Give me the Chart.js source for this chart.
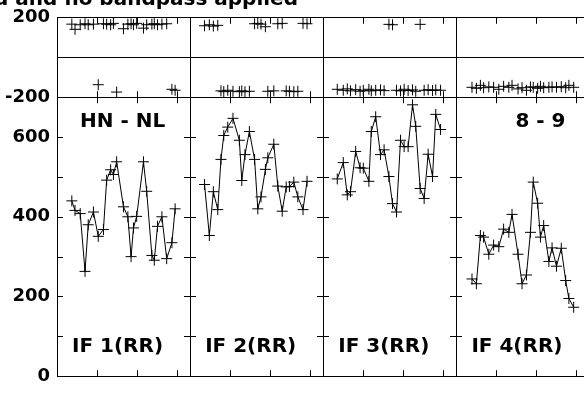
<!DOCTYPE html>
<html>
<head>
<meta charset="utf-8">
<script src="https://cdn.jsdelivr.net/npm/chart.js@4.4.0/dist/chart.umd.min.js"></script>
<style>
  html, body { margin: 0; padding: 0; overflow: hidden; background: #fff; }
  #wrap { position: relative; width: 584px; height: 394px; overflow: hidden; }
  #visChart { position: absolute; left: 0; top: 0; }
</style>
</head>
<body>
<div id="wrap"><canvas id="visChart" width="596" height="394"></canvas></div>
<script>
// --- data (time in panel units, amplitude, phase in degrees) ---
const timeIF1 = [0.37, 0.45, 0.58, 0.70, 0.78, 0.91, 1.03, 1.16, 1.24, 1.34, 1.41, 1.49, 1.66, 1.77, 1.85, 1.91, 1.99, 2.16, 2.24, 2.37, 2.43, 2.51, 2.62, 2.74, 2.87, 2.95];
const ampIF1 = [440, 416, 408, 263, 380, 412, 351, 368, 492, 518, 506, 538, 425, 400, 300, 372, 401, 538, 464, 303, 291, 376, 400, 295, 335, 420];
const phaseIF1 = [168, 142, 165, 170, 165, 168, -137, 170, 168, 165, 172, -174, 145, 168, 170, 165, 172, 148, 165, 168, 170, 165, 168, 170, -160, -165];

const timeIF2 = [0.36, 0.48, 0.58, 0.69, 0.77, 0.84, 0.94, 1.07, 1.23, 1.29, 1.37, 1.48, 1.61, 1.69, 1.77, 1.88, 1.94, 2.09, 2.19, 2.30, 2.40, 2.48, 2.59, 2.69, 2.82, 2.92];
const ampIF2 = [481, 353, 463, 418, 544, 604, 625, 647, 592, 491, 556, 614, 544, 420, 450, 519, 548, 582, 477, 414, 475, 476, 487, 450, 418, 489];
const phaseIF2 = [160, 165, 158, 162, -168, -172, -165, -170, -172, -168, -172, -170, 170, 172, 168, 155, -170, -168, 170, 172, -168, -170, -172, -170, 172, 170];

const timeIF3 = [0.35, 0.50, 0.60, 0.68, 0.81, 0.92, 1.00, 1.14, 1.20, 1.31, 1.43, 1.52, 1.64, 1.73, 1.83, 1.93, 2.02, 2.12, 2.23, 2.31, 2.42, 2.52, 2.62, 2.73, 2.81, 2.93];
const ampIF3 = [495, 536, 455, 463, 564, 523, 522, 489, 614, 651, 556, 568, 501, 433, 412, 592, 576, 576, 681, 627, 471, 446, 557, 501, 657, 619];
const phaseIF3 = [-160, -165, -158, -168, -162, -170, -165, -160, -168, -165, -163, -167, 167, 165, -165, -168, -160, -166, -163, -170, 167, -165, -162, -166, -163, -165];

const timeIF4 = [0.39, 0.50, 0.60, 0.68, 0.81, 0.93, 1.06, 1.18, 1.31, 1.39, 1.54, 1.64, 1.75, 1.85, 1.92, 2.03, 2.10, 2.18, 2.31, 2.39, 2.50, 2.62, 2.73, 2.81, 2.93];
const ampIF4 = [244, 232, 353, 349, 306, 329, 325, 369, 361, 406, 306, 232, 254, 361, 487, 434, 349, 378, 288, 322, 276, 321, 240, 195, 173];
const phaseIF4 = [-150, -155, -140, -152, -148, -150, -160, -145, -150, -140, -158, -152, -165, -148, -150, -155, -145, -152, -150, -148, -150, -147, -152, -140, -150];

const ifLabels = ["IF 1(RR)", "IF 2(RR)", "IF 3(RR)", "IF 4(RR)"];
const baselineLabel = "HN - NL";
const timerangeLabel = "8 - 9";
const titleText = "d and no bandpass applied";

const xTickValues = [1, 2, 3];
const ampTickValues = [100, 200, 300, 400, 500, 600];
const ampTickLabels = [0, 200, 400, 600];
const phaseTickValues = [-200, 0, 200];
const phaseTickLabels = [-200, 200];

const FONT = "'DejaVu Sans', 'Liberation Sans', sans-serif";
const PANEL_SPAN = 3.325;
const panelAxes = ["x1", "x2", "x3", "x4"];

function pts(t, v) {
  return t.map((x, i) => ({ x: x, y: v[i] }));
}

const panels = [
  { t: timeIF1, amp: ampIF1, ph: phaseIF1 },
  { t: timeIF2, amp: ampIF2, ph: phaseIF2 },
  { t: timeIF3, amp: ampIF3, ph: phaseIF3 },
  { t: timeIF4, amp: ampIF4, ph: phaseIF4 },
];

const datasets = [];
panels.forEach((p, i) => {
  const common = {
    xAxisID: panelAxes[i],
    borderColor: "#000",
    borderWidth: 1,
    pointStyle: "cross",
    pointRadius: 5.5,
    pointBorderColor: "#000",
    pointBorderWidth: 1,
    tension: 0,
  };
  datasets.push(Object.assign({ data: pts(p.t, p.amp), yAxisID: "ya", showLine: true }, common));
  datasets.push(Object.assign({ data: pts(p.t, p.ph), yAxisID: "yp", showLine: false }, common));
});

function xScale() {
  return {
    type: "linear",
    position: "bottom",
    stack: "panels",
    min: 0,
    max: PANEL_SPAN,
    afterBuildTicks: (s) => { s.ticks = [0].concat(xTickValues).map((v) => ({ value: v })); },
    afterFit: (s) => { s.height = 0; },
    ticks: { display: false },
    grid: {
      drawTicks: false,
      lineWidth: 1,
      color: (c) => (c.tick && c.tick.value === 0 ? "#000" : "rgba(0,0,0,0)"),
    },
    border: { display: true, color: "#000" },
  };
}

const tickFont = { family: FONT, size: 18, weight: "bold" };

// inward tick marks and panel texts
const decorations = {
  id: "decorations",
  afterDraw(chart) {
    const ctx = chart.ctx;
    const area = chart.chartArea;
    const ya = chart.scales.ya, yp = chart.scales.yp;
    const len = 6;
    const r = (v) => Math.round(v) + 0.5;
    ctx.save();
    ctx.strokeStyle = "#000";
    ctx.lineWidth = 1;
    ctx.beginPath();
    panelAxes.forEach((id) => {
      const s = chart.scales[id];
      xTickValues.forEach((v) => {
        const x = r(s.getPixelForValue(v));
        ctx.moveTo(x, area.bottom); ctx.lineTo(x, area.bottom - len);
        ctx.moveTo(x, yp.bottom - len); ctx.lineTo(x, yp.bottom + len);
        ctx.moveTo(x, area.top); ctx.lineTo(x, area.top + len);
      });
    });
    const edges = panelAxes.map((id) => chart.scales[id].left).concat([area.right]);
    ampTickValues.forEach((v) => {
      const y = r(ya.getPixelForValue(v));
      edges.forEach((e, i) => {
        const x = Math.round(e);
        ctx.moveTo(i === 0 ? x : x - len, y);
        ctx.lineTo(x + len, y);
      });
    });
    ctx.stroke();

    ctx.fillStyle = "#000";
    ctx.font = "bold 20px " + FONT;
    ctx.textBaseline = "middle";
    ctx.textAlign = "left";
    panelAxes.forEach((id, i) => {
      ctx.fillText(ifLabels[i], chart.scales[id].left + 15, ya.bottom - 29);
    });
    ctx.fillText(baselineLabel, chart.scales.x1.left + 23, ya.top + 25);
    ctx.textAlign = "right";
    ctx.fillText(timerangeLabel, chart.scales.x4.right - 24, ya.top + 25);
    ctx.textBaseline = "alphabetic";
    ctx.fillText(titleText, 298, 5);
    ctx.restore();
  },
};

new Chart(document.getElementById("visChart").getContext("2d"), {
  type: "line",
  data: { datasets: datasets },
  options: {
    responsive: false,
    animation: false,
    devicePixelRatio: 1,
    events: [],
    // the canvas is wider than the page: the last panel runs past the right edge, as in the original
    layout: { padding: { top: 16, right: 0, bottom: 8, left: 0 } },
    plugins: { legend: { display: false }, tooltip: { enabled: false } },
    scales: {
      yp: {
        type: "linear",
        position: "left",
        stack: "left",
        stackWeight: 82,
        weight: 1,
        min: -200,
        max: 200,
        afterBuildTicks: (s) => { s.ticks = phaseTickValues.map((v) => ({ value: v })); },
        afterFit: (s) => { s.width = 57; },
        ticks: {
          color: "#000",
          font: tickFont,
          padding: 7,
          autoSkip: false,
          callback: (v) => (phaseTickLabels.includes(v) ? String(v) : ""),
        },
        grid: { color: "#000", lineWidth: 1, drawTicks: false },
        border: { display: true, color: "#000" },
      },
      ya: {
        type: "linear",
        position: "left",
        stack: "left",
        stackWeight: 288,
        weight: 0,
        min: 0,
        max: 700,
        afterFit: (s) => { s.width = 57; },
        ticks: {
          stepSize: 100,
          color: "#000",
          font: tickFont,
          padding: 7,
          autoSkip: false,
          callback: (v) => (ampTickLabels.includes(v) ? String(v) : ""),
        },
        grid: { drawOnChartArea: false, drawTicks: false },
        border: { display: true, color: "#000" },
      },
      x1: xScale(),
      x2: xScale(),
      x3: xScale(),
      x4: xScale(),
    },
  },
  plugins: [decorations],
});
</script>
</body>
</html>
